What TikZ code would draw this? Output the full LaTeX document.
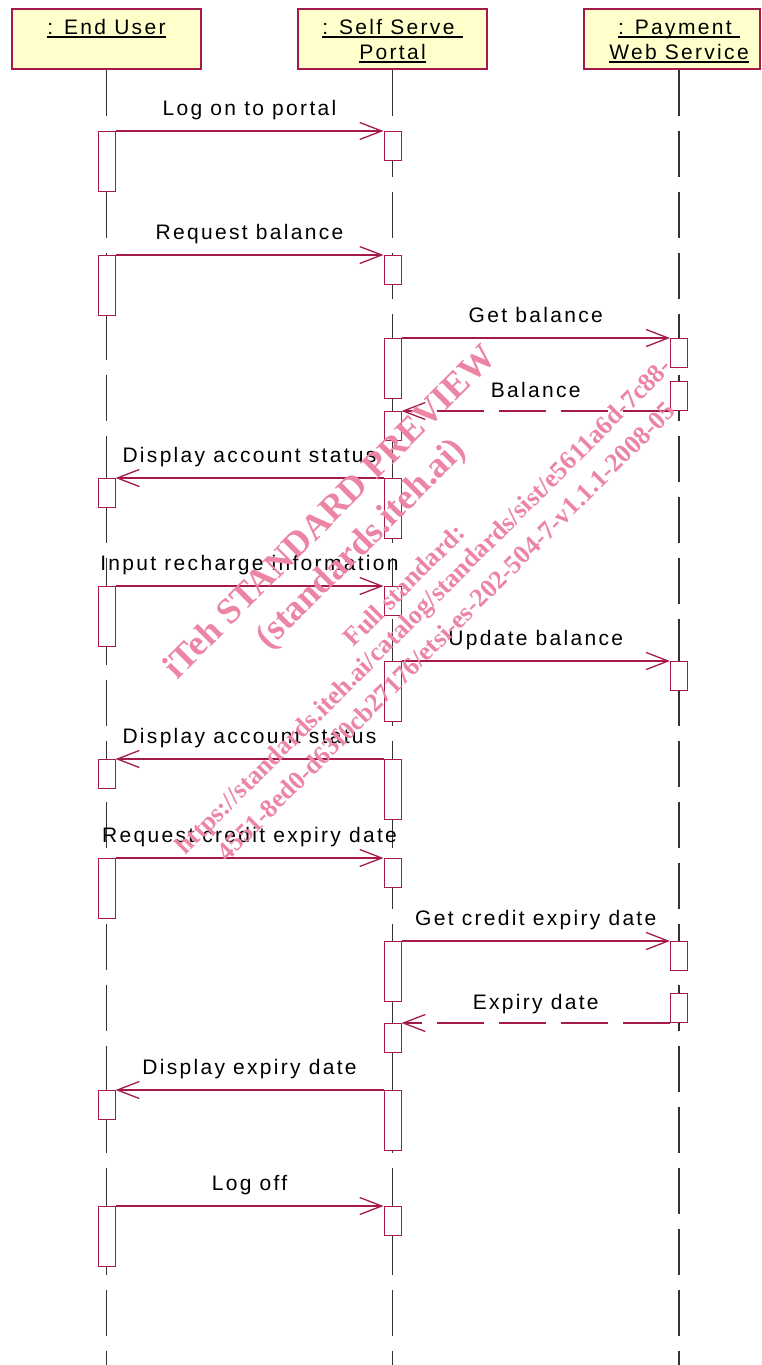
\documentclass[tikz,border=0pt]{standalone}
\usepackage{fontspec}
\setmainfont{Liberation Sans}
\newfontfamily\msgfont[LetterSpace=11]{Liberation Sans}
\newfontfamily\markfont{Liberation Serif}
\usetikzlibrary{arrows.meta, positioning, calc}
\definecolor{umlred}{RGB}{165,25,75}
\definecolor{umlpale}{RGB}{255,255,204}
\definecolor{markpink}{RGB}{236,132,164}
\newcommand{\hdul}[1]{\setbox0\hbox{#1}\rlap{\rule[-3.5pt]{\wd0}{1.6pt}}\box0}

\begin{document}
\begin{tikzpicture}[
    x=1pt, y=-1pt,
    head/.style={rectangle, draw=umlred, fill=umlpale, line width=1.2pt, minimum height=60pt, inner sep=0pt},
    title/.style={anchor=base, inner sep=0pt, font=\msgfont\fontsize{21}{25}\selectfont},
    life/.style={draw=black!80, line width=1.1pt, dash pattern=on 46pt off 15pt},
    act/.style={rectangle, draw=umlred, fill=white, line width=1pt, minimum width=17pt, inner sep=0pt, anchor=north},
    actshort/.style={act, minimum height=29pt},
    actlong/.style={act, minimum height=60pt},
    msg/.style={draw=umlred, line width=1.1pt, -{Straight Barb[length=22pt, width=17pt, line width=1.3pt]}},
    ret/.style={msg, dash pattern=on 47pt off 15pt},
    lbl/.style={anchor=base, yshift=16pt, inner sep=0pt, text=black, font=\msgfont\fontsize{21}{25}\selectfont},
    wmark/.style={text=markpink, rotate=45, inner sep=0pt}
]
\useasboundingbox (0,0) rectangle (761,1365);

% Objects
\node[head, minimum width=189pt] (eu) at (106.5,39) {};
\node[head, minimum width=189pt] (portal) at (392.5,39) {};
\node[head, minimum width=176pt] (pay) at (672,39) {};
\node[title] (eutxt) at (106.5,34) {\hdul{: End User}};
\node[title] (portaltxt) at (392.5,34) {\hdul{: Self Serve }};
\node[title] (portaltxt2) at (392.5,59) {\hdul{Portal}};
\node[title] (paytxt) at (679,34) {\hdul{: Payment }};
\node[title] (paytxt2) at (679,59) {\hdul{Web Service}};

% Lifelines
\coordinate (euend) at (106.5,1365);
\coordinate (portalend) at (392.5,1365);
\coordinate (payend) at (679,1365);
\draw[life] (eu.south) -- (euend);
\draw[life] (portal.south) -- (portalend);
\draw[life] (pay.south -| paytxt) -- (payend);

% Activations: End User
\node[actlong] (a1) at (106.5,131) {};
\node[actlong] (a2) at (106.5,255) {};
\node[actshort] (a3) at (106.5,478) {};
\node[actlong] (a4) at (106.5,586) {};
\node[actshort] (a5) at (106.5,759) {};
\node[actlong] (a6) at (106.5,858) {};
\node[actshort] (a7) at (106.5,1090) {};
\node[actlong] (a8) at (106.5,1206) {};

% Activations: Self Serve Portal
\node[actshort] (p1) at (392.5,131) {};
\node[actshort] (p2) at (392.5,255) {};
\node[actlong] (p3) at (392.5,338) {};
\node[actshort] (p4) at (392.5,411) {};
\node[actlong] (p5) at (392.5,478) {};
\node[actshort] (p6) at (392.5,586) {};
\node[actlong] (p7) at (392.5,661) {};
\node[actlong] (p8) at (392.5,759) {};
\node[actshort] (p9) at (392.5,858) {};
\node[actlong] (p10) at (392.5,941) {};
\node[actshort] (p11) at (392.5,1023) {};
\node[actlong] (p12) at (392.5,1090) {};
\node[actshort] (p13) at (392.5,1206) {};

% Activations: Payment Web Service
\node[actshort] (q1) at (679,338) {};
\node[actshort] (q2) at (679,381) {};
\node[actshort] (q3) at (679,661) {};
\node[actshort] (q4) at (679,941) {};
\node[actshort] (q5) at (679,993) {};

% Messages
\draw[msg] (a1.north east) -- node[lbl] {Log on to portal} (p1.north west);
\draw[msg] (a2.north east) -- node[lbl] {Request balance} (p2.north west);
\draw[msg] (p3.north east) -- node[lbl] {Get balance} (q1.north west);
\draw[ret] (q2.south west) -- node[lbl, yshift=-2pt] {Balance} (q2.south west -| p4.east);
\draw[msg] (p5.north west) -- node[lbl] {Display account status} (a3.north east);
\draw[msg] (a4.north east) -- node[lbl] {Input recharge information} (p6.north west);
\draw[msg] (p7.north east) -- node[lbl] {Update balance} (q3.north west);
\draw[msg] (p8.north west) -- node[lbl] {Display account status} (a5.north east);
\draw[msg] (a6.north east) -- node[lbl] {Request credit expiry date} (p9.north west);
\draw[msg] (p10.north east) -- node[lbl] {Get credit expiry date} (q4.north west);
\draw[ret] (q5.south west) -- node[lbl, yshift=-2pt] {Expiry date} (q5.south west -| p11.east);
\draw[msg] (p12.north west) -- node[lbl] {Display expiry date} (a7.north east);
\draw[msg] (a8.north east) -- node[lbl] {Log off} (p13.north west);

% Watermark
\node[wmark, font=\markfont\bfseries\fontsize{36}{40}\selectfont] (wm1) at (329,511) {iTeh STANDARD PREVIEW};
\node[wmark, font=\markfont\bfseries\fontsize{36}{40}\selectfont] (wm2) at (362,545) {(standards.iteh.ai)};
\node[wmark, font=\markfont\bfseries\fontsize{26}{30}\selectfont] (wm3) at (404,585) {Full standard:};
\node[wmark, font=\markfont\bfseries\fontsize{26}{30}\selectfont] (wm4) at (425,608) {https://standards.iteh.ai/catalog/standards/sist/e5611a6d-7c88-};
\node[wmark, font=\markfont\bfseries\fontsize{26}{30}\selectfont] (wm5) at (446,631) {4551-8ed0-d63f0cb27176/etsi-es-202-504-7-v1.1.1-2008-05};

\end{tikzpicture}
\end{document}
